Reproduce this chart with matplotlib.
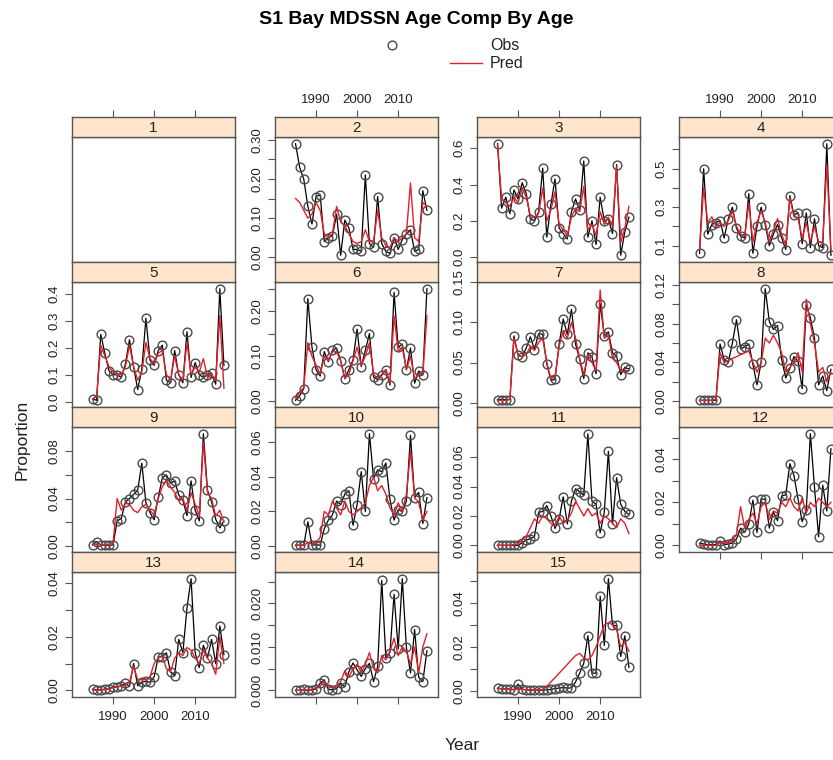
import numpy as np
import matplotlib.pyplot as plt
from matplotlib.lines import Line2D

plt.rcParams['font.family'] = ['Liberation Sans', 'DejaVu Sans']

years = np.arange(1985, 2018)

obs_2 = [0.29, 0.23, 0.20, 0.13, 0.085, 0.155, 0.16, 0.04, 0.05, 0.055, 0.11, 0.005, 0.095, 0.075, 0.02, 0.02, 0.015,
         0.21, 0.035, 0.025, 0.155, 0.035, 0.015, 0.01, 0.05, 0.02, 0.045, 0.06, 0.07, 0.015, 0.02, 0.17, 0.12]
pred_2 = [0.15, 0.14, 0.12, 0.10, 0.11, 0.14, 0.12, 0.06, 0.05, 0.06, 0.13, 0.09, 0.08, 0.06, 0.04, 0.035, 0.04,
          0.07, 0.04, 0.04, 0.12, 0.05, 0.03, 0.025, 0.05, 0.04, 0.05, 0.06, 0.19, 0.05, 0.04, 0.14, 0.13]
obs_3 = [0.625, 0.27, 0.33, 0.24, 0.37, 0.32, 0.41, 0.35, 0.21, 0.20, 0.25, 0.49, 0.11, 0.29, 0.43, 0.16, 0.13,
         0.10, 0.25, 0.32, 0.26, 0.53, 0.11, 0.20, 0.07, 0.33, 0.20, 0.21, 0.13, 0.51, 0.01, 0.14, 0.22]
pred_3 = [0.62, 0.32, 0.30, 0.28, 0.33, 0.30, 0.38, 0.33, 0.23, 0.22, 0.24, 0.38, 0.20, 0.26, 0.36, 0.18, 0.15,
          0.12, 0.22, 0.27, 0.25, 0.39, 0.15, 0.18, 0.12, 0.25, 0.18, 0.22, 0.17, 0.50, 0.08, 0.16, 0.28]
obs_4 = [0.06, 0.50, 0.16, 0.21, 0.22, 0.23, 0.14, 0.24, 0.30, 0.19, 0.15, 0.14, 0.37, 0.06, 0.20, 0.30, 0.21,
         0.10, 0.16, 0.21, 0.14, 0.08, 0.36, 0.26, 0.27, 0.11, 0.27, 0.09, 0.24, 0.10, 0.09, 0.63, 0.05]
pred_4 = [0.08, 0.40, 0.22, 0.25, 0.20, 0.22, 0.20, 0.23, 0.28, 0.20, 0.16, 0.15, 0.32, 0.12, 0.22, 0.28, 0.22,
          0.12, 0.18, 0.24, 0.16, 0.10, 0.35, 0.25, 0.24, 0.14, 0.22, 0.12, 0.20, 0.12, 0.12, 0.52, 0.08]
obs_5 = [0.01, 0.005, 0.25, 0.18, 0.115, 0.10, 0.10, 0.09, 0.14, 0.23, 0.13, 0.045, 0.12, 0.31, 0.155, 0.135, 0.19,
         0.21, 0.08, 0.07, 0.19, 0.10, 0.07, 0.26, 0.09, 0.145, 0.10, 0.09, 0.10, 0.105, 0.065, 0.42, 0.135]
pred_5 = [0.01, 0.02, 0.21, 0.17, 0.13, 0.11, 0.10, 0.10, 0.13, 0.21, 0.13, 0.08, 0.11, 0.22, 0.16, 0.14, 0.18,
          0.19, 0.10, 0.08, 0.17, 0.10, 0.08, 0.22, 0.10, 0.13, 0.11, 0.16, 0.09, 0.10, 0.08, 0.32, 0.05]
obs_6 = [0.002, 0.012, 0.028, 0.228, 0.12, 0.07, 0.056, 0.11, 0.088, 0.113, 0.118, 0.09, 0.05, 0.07, 0.092, 0.16, 0.077,
         0.113, 0.15, 0.054, 0.048, 0.058, 0.07, 0.036, 0.242, 0.12, 0.127, 0.07, 0.118, 0.04, 0.067, 0.058, 0.25]
pred_6 = [0.005, 0.02, 0.03, 0.13, 0.10, 0.08, 0.06, 0.10, 0.09, 0.11, 0.11, 0.09, 0.05, 0.06, 0.09, 0.12, 0.08,
          0.10, 0.13, 0.06, 0.05, 0.06, 0.07, 0.04, 0.19, 0.11, 0.12, 0.07, 0.10, 0.05, 0.06, 0.06, 0.19]
obs_7 = [0.004, 0.004, 0.004, 0.004, 0.083, 0.059, 0.057, 0.068, 0.082, 0.066, 0.086, 0.085, 0.048, 0.028, 0.029, 0.073,
         0.104, 0.085, 0.116, 0.073, 0.054, 0.03, 0.062, 0.057, 0.036, 0.123, 0.083, 0.088, 0.062, 0.058, 0.035, 0.044, 0.042]
pred_7 = [0.003, 0.003, 0.003, 0.004, 0.08, 0.06, 0.057, 0.06, 0.07, 0.065, 0.075, 0.08, 0.05, 0.03, 0.032, 0.07,
          0.09, 0.08, 0.10, 0.08, 0.055, 0.035, 0.06, 0.05, 0.04, 0.14, 0.08, 0.085, 0.055, 0.05, 0.04, 0.04, 0.04]
obs_8 = [0.001, 0.001, 0.001, 0.001, 0.001, 0.059, 0.043, 0.04, 0.06, 0.084, 0.054, 0.056, 0.059, 0.038, 0.017, 0.04,
         0.116, 0.082, 0.074, 0.078, 0.043, 0.024, 0.034, 0.046, 0.041, 0.013, 0.099, 0.086, 0.065, 0.017, 0.026, 0.011, 0.033]
pred_8 = [0.001, 0.001, 0.001, 0.001, 0.002, 0.05, 0.04, 0.042, 0.044, 0.046, 0.048, 0.05, 0.052, 0.04, 0.03, 0.04,
          0.065, 0.06, 0.068, 0.06, 0.05, 0.03, 0.035, 0.04, 0.05, 0.03, 0.105, 0.08, 0.06, 0.03, 0.035, 0.02, 0.03]
obs_9 = [0.0006, 0.0035, 0.0003, 0.0006, 0.0003, 0.0006, 0.021, 0.023, 0.037, 0.040, 0.0435, 0.047, 0.070, 0.0365, 0.028,
         0.022, 0.041, 0.0575, 0.060, 0.053, 0.055, 0.043, 0.0385, 0.0255, 0.055, 0.030, 0.021, 0.095, 0.047, 0.037,
         0.0225, 0.015, 0.021]
pred_9 = [0.001, 0.001, 0.001, 0.001, 0.001, 0.002, 0.04, 0.03, 0.036, 0.035, 0.03, 0.028, 0.033, 0.035, 0.03, 0.026,
          0.04, 0.05, 0.055, 0.05, 0.045, 0.038, 0.04, 0.03, 0.045, 0.035, 0.025, 0.088, 0.045, 0.04, 0.025, 0.03, 0.02]
obs_10 = [0.0004, 0.0004, 0.0004, 0.014, 0.0004, 0.0008, 0.0004, 0.010, 0.015, 0.018, 0.026, 0.024, 0.030, 0.032, 0.012,
          0.024, 0.043, 0.020, 0.065, 0.039, 0.044, 0.043, 0.048, 0.027, 0.015, 0.021, 0.020, 0.026, 0.064, 0.028,
          0.031, 0.013, 0.028]
pred_10 = [0.0005, 0.0005, 0.0005, 0.002, 0.001, 0.002, 0.005, 0.02, 0.018, 0.026, 0.022, 0.018, 0.026, 0.02, 0.018,
           0.02, 0.022, 0.025, 0.035, 0.04, 0.032, 0.035, 0.03, 0.022, 0.018, 0.025, 0.02, 0.03, 0.055, 0.028, 0.025,
           0.015, 0.02]
obs_11 = [0.0, 0.0, 0.0, 0.0, 0.0, 0.0, 0.0016, 0.0035, 0.0045, 0.006, 0.0225, 0.023, 0.027, 0.020, 0.0115, 0.018,
          0.033, 0.0145, 0.030, 0.0385, 0.0365, 0.034, 0.076, 0.030, 0.028, 0.0086, 0.0225, 0.064, 0.0145, 0.046,
          0.028, 0.023, 0.021]
pred_11 = [0.0, 0.0, 0.0, 0.0, 0.0005, 0.001, 0.004, 0.006, 0.012, 0.018, 0.015, 0.02, 0.018, 0.015, 0.013, 0.02,
           0.015, 0.017, 0.022, 0.03, 0.025, 0.02, 0.025, 0.02, 0.022, 0.015, 0.02, 0.018, 0.015, 0.012, 0.018, 0.015,
           0.008]
obs_12 = [0.001, 0.0006, 0.0003, 0.0003, 0.0003, 0.002, 0.0003, 0.0006, 0.001, 0.003, 0.008, 0.006, 0.010, 0.021,
          0.006, 0.0215, 0.0215, 0.008, 0.0155, 0.0115, 0.023, 0.0235, 0.038, 0.0325, 0.0215, 0.011, 0.0165, 0.052,
          0.027, 0.004, 0.028, 0.016, 0.045]
pred_12 = [0.0, 0.0, 0.0, 0.0, 0.0, 0.0015, 0.001, 0.001, 0.002, 0.005, 0.018, 0.008, 0.012, 0.015, 0.01, 0.018, 0.02,
           0.012, 0.016, 0.015, 0.02, 0.018, 0.022, 0.018, 0.016, 0.022, 0.015, 0.02, 0.018, 0.022, 0.02, 0.018, 0.02]
obs_13 = [0.0004, 0.0002, 0.0001, 0.0005, 0.0005, 0.0013, 0.0013, 0.0017, 0.0026, 0.0015, 0.0100, 0.0017, 0.0030,
          0.0034, 0.0030, 0.0050, 0.0124, 0.0126, 0.0140, 0.0068, 0.0055, 0.0190, 0.0140, 0.0307, 0.0417, 0.0140,
          0.0085, 0.0168, 0.0120, 0.0190, 0.0100, 0.0240, 0.0133]
pred_13 = [0.0002, 0.0, 0.0, 0.0003, 0.0005, 0.001, 0.0012, 0.0015, 0.002, 0.003, 0.009, 0.004, 0.004, 0.004, 0.005,
           0.01, 0.012, 0.013, 0.008, 0.007, 0.012, 0.014, 0.013, 0.016, 0.015, 0.012, 0.01, 0.015, 0.012, 0.01, 0.006,
           0.02, 0.01]
obs_14 = [0.0, 0.0, 0.0002, 0.0, 0.0001, 0.0003, 0.0016, 0.0024, 0.0002, 0.0001, 0.0004, 0.0016, 0.0008, 0.0043, 0.0063,
          0.0047, 0.0032, 0.0050, 0.0062, 0.0020, 0.0055, 0.0253, 0.0075, 0.0087, 0.0221, 0.0095, 0.0257, 0.0099,
          0.0040, 0.0140, 0.0030, 0.0020, 0.0091]
pred_14 = [0.0, 0.0, 0.0001, 0.0001, 0.0002, 0.0005, 0.001, 0.002, 0.001, 0.0005, 0.001, 0.002, 0.0045, 0.003, 0.005,
           0.006, 0.004, 0.006, 0.0087, 0.005, 0.004, 0.008, 0.007, 0.009, 0.012, 0.008, 0.010, 0.009, 0.006, 0.010,
           0.004, 0.010, 0.013]
obs_15 = [0.0012, 0.0008, 0.0008, 0.0007, 0.0004, 0.0030, 0.0006, 0.0004, 0.0003, 0.0003, 0.0002, 0.0003, 0.0004,
          0.0006, 0.0010, 0.0012, 0.0015, 0.0012, 0.0013, 0.0040, 0.0080, 0.0125, 0.0250, 0.0080, 0.0080, 0.0430,
          0.0206, 0.0510, 0.0297, 0.0297, 0.0156, 0.0250, 0.0106]
pred_15 = [0.001, 0.001, 0.0008, 0.0008, 0.0006, 0.0008, 0.0006, 0.0005, 0.0004, 0.0004, 0.0004, 0.0005, 0.002, 0.004,
           0.006, 0.008, 0.010, 0.012, 0.014, 0.016, 0.017, 0.015, 0.014, 0.016, 0.020, 0.025, 0.030, 0.031, 0.030,
           0.028, 0.020, 0.022, 0.018]

# y ticks per age: (step, last, label every n-th, decimals)
ytick_spec = {2: (0.05, 0.30, 2, 2), 3: (0.2, 0.6, 1, 1), 4: (0.1, 0.6, 2, 1), 5: (0.1, 0.4, 1, 1),
              6: (0.05, 0.25, 2, 2), 7: (0.05, 0.15, 1, 2), 8: (0.02, 0.12, 2, 2), 9: (0.02, 0.08, 2, 2),
              10: (0.02, 0.06, 1, 2), 11: (0.02, 0.06, 1, 2), 12: (0.01, 0.05, 2, 2), 13: (0.01, 0.04, 2, 2),
              14: (0.005, 0.025, 2, 3), 15: (0.01, 0.05, 2, 2)}

obs_all = {2: obs_2, 3: obs_3, 4: obs_4, 5: obs_5, 6: obs_6, 7: obs_7, 8: obs_8, 9: obs_9, 10: obs_10,
           11: obs_11, 12: obs_12, 13: obs_13, 14: obs_14, 15: obs_15}
pred_all = {2: pred_2, 3: pred_3, 4: pred_4, 5: pred_5, 6: pred_6, 7: pred_7, 8: pred_8, 9: pred_9, 10: pred_10,
            11: pred_11, 12: pred_12, 13: pred_13, 14: pred_14, 15: pred_15}

W, H = 833, 760
fig = plt.figure(figsize=(W / 100, H / 100), dpi=100)

col_left = [72, 275, 477, 679]
pw = 163
row_top = [117, 262, 407, 552]
sh, ph = 20, 125
xlim = (1980.0, 2019.7)
xt = [1990, 2000, 2010]
frame = '#555555'
txtc = '#222222'
tsize = 9.5


def fx(px):
    return px / W


def fy(py):
    return 1 - py / H


for age in range(1, 16):
    r, c = (age - 1) // 4, (age - 1) % 4
    x0 = col_left[c]
    top = row_top[r]
    ax = fig.add_axes([fx(x0), fy(top + sh + ph), pw / W, ph / H])
    st = fig.add_axes([fx(x0), fy(top + sh), pw / W, sh / H])
    st.set_facecolor('#FFE5CC')
    st.set_xlim(xlim)
    st.set_yticks([])
    st.text(0.5, 0.45, str(age), transform=st.transAxes, ha='center', va='center', fontsize=11, color=txtc)
    for a in (ax, st):
        for s in a.spines.values():
            s.set_color(frame)
            s.set_linewidth(1.0)
    ax.set_xlim(xlim)
    # top axis on strip for top row
    if r == 0:
        st.xaxis.tick_top()
        st.set_xticks(xt)
        st.tick_params(axis='x', direction='out', length=5, color=frame, labelsize=tsize, labelcolor=txtc, pad=3)
        if c in (1, 3):
            st.set_xticklabels([str(v) for v in xt])
        else:
            st.set_xticklabels([])
    else:
        st.set_xticks([])
    # bottom axis
    bottom_panel = (r == 3) or (age == 12)
    if bottom_panel:
        ax.set_xticks(xt)
        ax.tick_params(axis='x', direction='out', length=5, color=frame, labelsize=tsize, labelcolor=txtc, pad=5)
        if c in (0, 2):
            ax.set_xticklabels([str(v) for v in xt])
        else:
            ax.set_xticklabels([])
    else:
        ax.set_xticks([])
    if age == 1:
        ax.set_yticks([])
        continue
    o = np.array(obs_all[age])
    p = np.array(pred_all[age])
    ax.plot(years, o, color='black', lw=0.9, marker='o', ms=6.3, mfc='none', mec='#4a4a4a', mew=1.0, zorder=2)
    ax.plot(years, p, color='#E3202C', lw=1.0, zorder=3)
    lo = min(o.min(), p.min())
    hi = max(o.max(), p.max())
    rng = hi - lo
    ax.set_ylim(lo - 0.06 * rng, hi + 0.06 * rng)
    step, last, every, dec = ytick_spec[age]
    n = int(round(last / step))
    ticks = [round(i * step, 4) for i in range(n + 1)]
    if age == 4:
        ticks = [round(0.1 + i * step, 4) for i in range(n)]
    labels = [('%.' + str(dec) + 'f') % t if i % every == 0 else '' for i, t in enumerate(ticks)]
    ax.set_yticks(ticks)
    ax.set_yticklabels(labels, rotation=90, va='center')
    ax.tick_params(axis='y', direction='out', length=5, color=frame, labelsize=tsize, labelcolor=txtc, pad=3)

fig.text(0.5, fy(20), 'S1 Bay MDSSN Age Comp By Age', ha='center', va='center', fontsize=14, fontweight='bold',
         color='black')
fig.add_artist(Line2D([fx(392)], [fy(45)], marker='o', ms=6.3, mfc='none', mec='#4a4a4a', mew=1.0, ls='none'))
fig.text(fx(505), fy(45), 'Obs', ha='center', va='center', fontsize=11.5, color=txtc)
fig.add_artist(Line2D([fx(450), fx(482)], [fy(63), fy(63)], color='#E3202C', lw=1.0))
fig.text(fx(507), fy(63), 'Pred', ha='center', va='center', fontsize=11.5, color=txtc)
fig.text(fx(22), fy(440), 'Proportion', rotation=90, ha='center', va='center', fontsize=12.5, color=txtc)
fig.text(fx(462), fy(745), 'Year', ha='center', va='center', fontsize=12.5, color=txtc)

fig.savefig('out.png', dpi=100)
